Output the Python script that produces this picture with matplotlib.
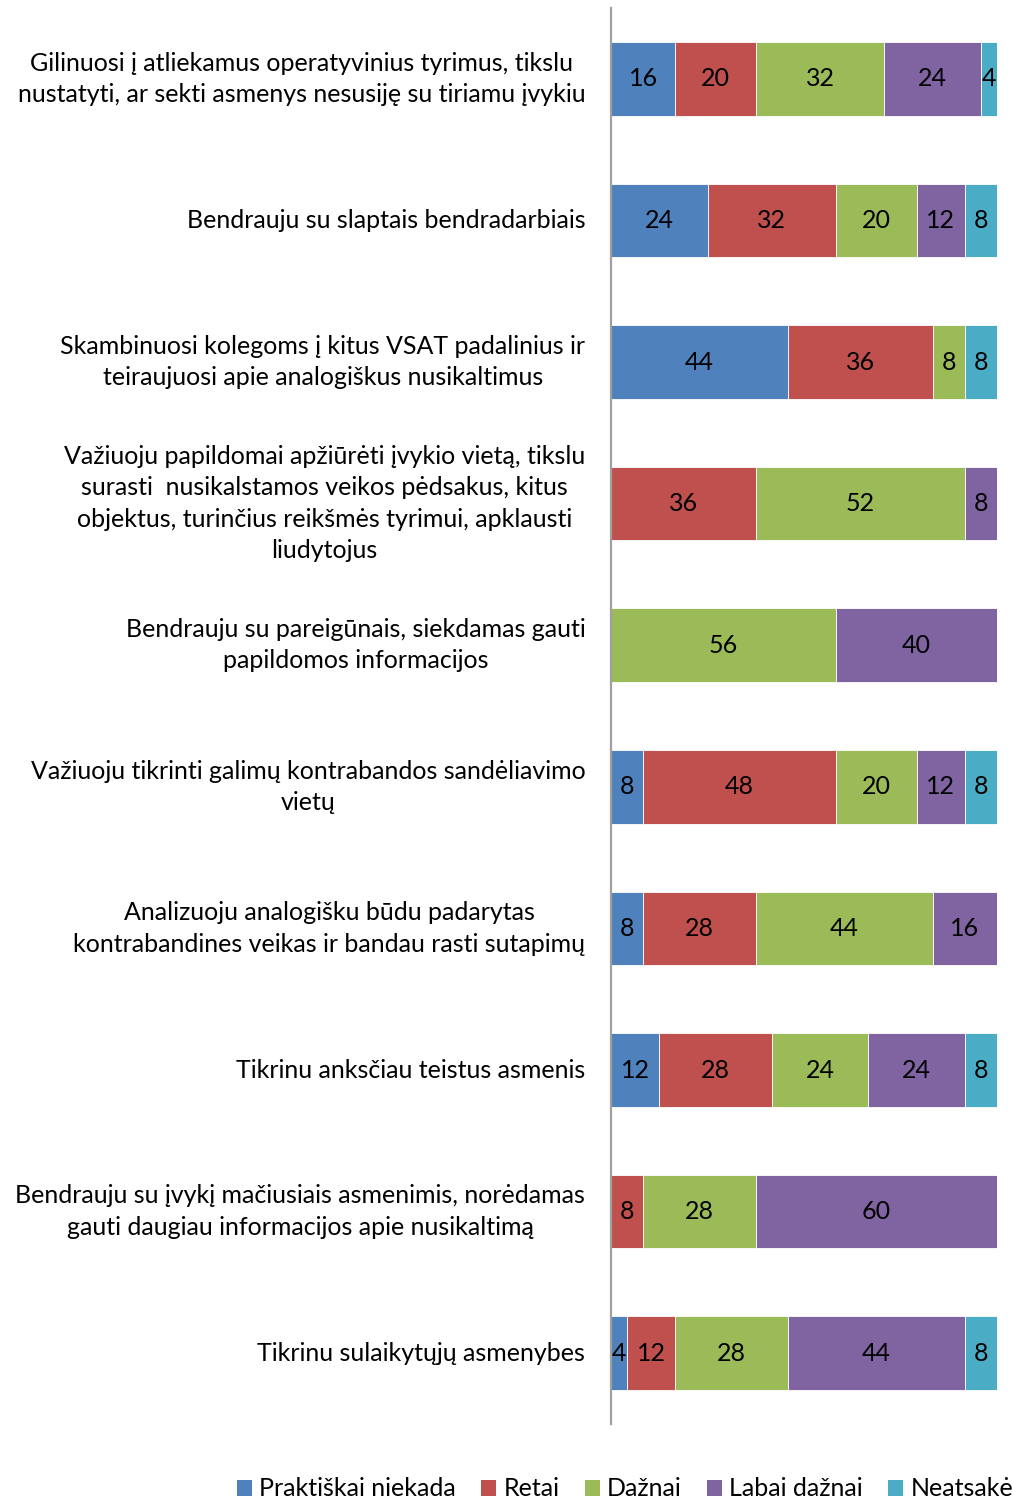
import matplotlib.pyplot as plt
from matplotlib.patches import Patch

plt.rcParams["font.family"] = ["Lato", "DejaVu Sans"]

# ===== Data =====
questions = [
    "Gilinuosi į atliekamus operatyvinius tyrimus, tikslu\nnustatyti, ar sekti asmenys nesusiję su tiriamu įvykiu",
    "Bendrauju su slaptais bendradarbiais",
    "Skambinuosi kolegoms į kitus VSAT padalinius ir\nteiraujuosi apie analogiškus nusikaltimus",
    "Važiuoju papildomai apžiūrėti įvykio vietą, tikslu\nsurasti  nusikalstamos veikos pėdsakus, kitus\nobjektus, turinčius reikšmės tyrimui, apklausti\nliudytojus",
    "Bendrauju su pareigūnais, siekdamas gauti\npapildomos informacijos",
    "Važiuoju tikrinti galimų kontrabandos sandėliavimo\nvietų",
    "Analizuoju analogišku būdu padarytas\nkontrabandines veikas ir bandau rasti sutapimų",
    "Tikrinu anksčiau teistus asmenis",
    "Bendrauju su įvykį mačiusiais asmenimis, norėdamas\ngauti daugiau informacijos apie nusikaltimą",
    "Tikrinu sulaikytųjų asmenybes",
]

series_names = ["Praktiškai niekada", "Retai", "Dažnai", "Labai dažnai", "Neatsakė"]

praktiskai_niekada = [16, 24, 44, 0, 0, 8, 8, 12, 0, 4]
retai = [20, 32, 36, 36, 0, 48, 28, 28, 8, 12]
daznai = [32, 20, 8, 52, 56, 20, 44, 24, 28, 28]
labai_daznai = [24, 12, 0, 8, 40, 12, 16, 24, 60, 44]
neatsake = [4, 8, 8, 0, 0, 8, 0, 8, 0, 8]

colors = ["#4F81BD", "#C0504D", "#9BBB59", "#8064A2", "#4BACC6"]

# ===== Plot =====
fig = plt.figure(figsize=(10.13, 15.01), dpi=100)
ax = fig.add_axes([611 / 1013, 1 - 1424 / 1501, 386 / 1013, 1416 / 1501])

series = [praktiskai_niekada, retai, daznai, labai_daznai, neatsake]
ypos = list(range(len(questions)))
left = [0] * len(questions)
for vals, name, col in zip(series, series_names, colors):
    bars = ax.barh(ypos, vals, left=left, height=0.52, color=col,
                   edgecolor="white", linewidth=0.6, label=name)
    for b, v in zip(bars, vals):
        if v > 0:
            ax.text(b.get_x() + b.get_width() / 2, b.get_y() + b.get_height() / 2,
                    str(v), ha="center", va="center", fontsize=18, color="black")
    left = [l + v for l, v in zip(left, vals)]

ax.set_xlim(0, 96)
ax.set_ylim(len(questions) - 0.5, -0.5)
ax.set_xticks([])
ax.set_yticks(ypos)
ax.set_yticklabels(questions, fontsize=18, multialignment="center",
                   linespacing=1.45, va="center")
ax.tick_params(axis="y", length=0, pad=18.5)
for s in ["top", "right", "bottom"]:
    ax.spines[s].set_visible(False)
ax.spines["left"].set_color("#A0A0A0")
ax.spines["left"].set_linewidth(1.6)

handles = [Patch(facecolor=c, label=n) for c, n in zip(colors, series_names)]
fig.legend(handles=handles, loc="center", bbox_to_anchor=(625 / 1013, 1 - 1489 / 1501),
           ncol=5, frameon=False, fontsize=18, handlelength=0.6, handleheight=0.6,
           handletextpad=0.3, columnspacing=1.0)

fig.savefig("out.png", dpi=100)
